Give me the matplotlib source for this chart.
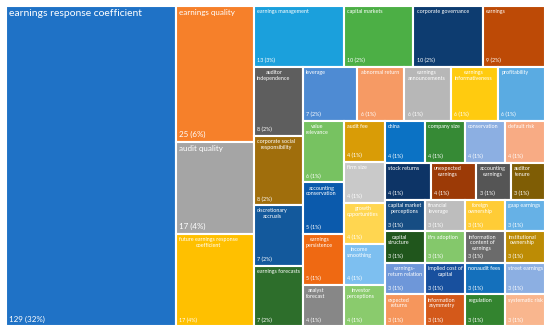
import matplotlib
matplotlib.use('Agg')
import matplotlib.pyplot as plt
from matplotlib.patches import Rectangle

plt.rcParams['font.family'] = ['Lato', 'DejaVu Sans']

labels = [
    'earnings response coefficient', 'earnings quality', 'audit quality',
    'future earnings response\ncoefficient',
    'earnings management', 'capital markets', 'corporate governance', 'earnings',
    'auditor\nindependence', 'corporate social\nresponsibility', 'discretionary\naccruals',
    'earnings forecasts',
    'leverage', 'abnormal return', 'earnings\nannouncements', 'earnings\ninformativeness',
    'profitability',
    'value\nrelevance', 'accounting\nconservation', 'earnings\npersistence', 'analyst\nforecast',
    'audit fee', 'firm size', 'growth\nopportunities', 'income\nsmoothing', 'investor\nperceptions',
    'china', 'company size', 'conservation', 'default risk',
    'stock returns', 'unexpected\nearnings', 'accounting\nearnings', 'auditor\ntenure',
    'capital market\nperceptions', 'financial\nleverage', 'foreign\nownership', 'gaap earnings',
    'capital\nstructure', 'ifrs adoption', 'information\ncontent of\nearnings', 'institutional\nownership',
    'earnings-\nreturn relation', 'implied cost of\ncapital', 'nonaudit fees', 'street earnings',
    'expected\nreturns', 'information\nasymmetry', 'regulation', 'systematic risk',
]
values = [
    129, 25, 17, 17,
    13, 10, 10, 9,
    8, 8, 7, 7,
    7, 6, 6, 6, 6,
    6, 5, 5, 4,
    4, 4, 4, 4, 4,
    4, 4, 4, 4,
    4, 4, 3, 3,
    3, 3, 3, 3,
    3, 3, 3, 3,
    3, 3, 3, 3,
    3, 3, 3, 3,
]
colors = [
    '#1f72c6', '#f6802a', '#a5a5a5', '#ffc000',
    '#1ba0dc', '#4caf45', '#0d3c70', '#bd4a06',
    '#5e5e5e', '#a06e0c', '#13599c', '#2d6e2b',
    '#4e8bd3', '#f69a64', '#b7b7b7', '#ffcb0f', '#5aabe2',
    '#77c261', '#0b5aac', '#ef6912', '#878787',
    '#d99c06', '#c9c9c9', '#ffd650', '#7dbff0', '#8acb6d',
    '#0b72c4', '#368a35', '#8cafe2', '#f8ab84',
    '#0d3466', '#9c3a06', '#555555', '#7f5d05',
    '#164d83', '#bdbdbd', '#ffcc36', '#66b1e6',
    '#20561c', '#84c86b', '#6b6b6b', '#bd8c05',
    '#6e97d9', '#18509e', '#1470bc', '#8cafe2',
    '#f6965c', '#d4591a', '#33842f', '#f9b68e',
]

total = sum(values)

# nesting of the tiles, 'h' = side by side, 'v' = stacked
tree = ('h', [0, ('v', [1, 2, 3]),
              ('v', [('h', [4, 5, 6, 7]),
                     ('h', [('v', [8, 9, 10, 11]),
                            ('v', [('h', [12, 13, 14, 15, 16]),
                                   ('h', [('v', [17, 18, 19, 20]),
                                          ('v', [21, 22, 23, 24, 25]),
                                          ('v', [('h', [26, 27, 28, 29]),
                                                 ('h', [30, 31, 32, 33]),
                                                 ('h', [34, 35, 36, 37]),
                                                 ('h', [38, 39, 40, 41]),
                                                 ('h', [42, 43, 44, 45]),
                                                 ('h', [46, 47, 48, 49])])])])])])])

big_label = {0: 7.5, 1: 5.8, 2: 5.8}
big_value = {0: 5.8, 1: 5.8, 2: 5.8}


def node_sum(n):
    if isinstance(n, int):
        return values[n]
    return sum(node_sum(c) for c in n[1])


rects = {}


def place(n, x, y, w, h):
    if isinstance(n, int):
        rects[n] = (x, y, w, h)
        return
    d, kids = n
    s = node_sum(n)
    pos = 0.0
    for k in kids:
        f = node_sum(k) / s
        if d == 'h':
            place(k, x + pos * w, y, f * w, h)
        else:
            place(k, x, y + pos * h, w, f * h)
        pos += f


place(tree, 0, 0, 1, 1)

fig = plt.figure(figsize=(5.5, 3.32), dpi=100)
ax = fig.add_axes([6 / 550, 6 / 332, 539 / 550, 320 / 332])
ax.set_xlim(0, 1)
ax.set_ylim(1, 0)
ax.axis('off')

for i in range(len(values)):
    x, y, w, h = rects[i]
    ax.add_patch(Rectangle((x, y), w, h, facecolor=colors[i], edgecolor='white', linewidth=1.5))
    multi = '\n' in labels[i]
    ax.annotate(labels[i], (x, y), xytext=(2.4, -2.4), textcoords='offset points',
                ha='left', va='top', color='white', fontsize=big_label.get(i, 3.9),
                multialignment='center' if multi else 'left', linespacing=1.15)
    pct = round(values[i] / total * 100)
    ax.annotate('%d (%d%%)' % (values[i], pct), (x, y + h), xytext=(2.4, 2.4),
                textcoords='offset points', ha='left', va='bottom', color='white',
                fontsize=big_value.get(i, 3.9))

fig.savefig('out.png', dpi=100)
